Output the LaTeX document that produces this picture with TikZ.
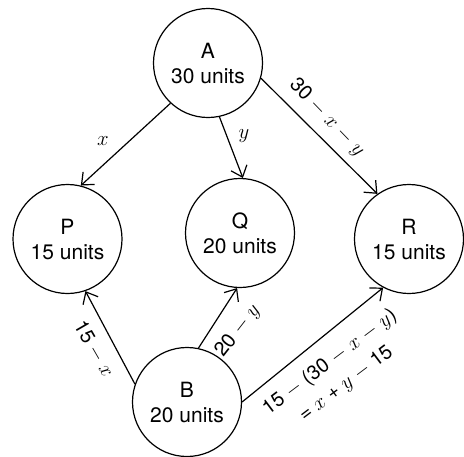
\documentclass[tikz,border=0pt]{standalone}
\usepackage{fontspec}
\setmainfont{TeX Gyre Heros}
\usetikzlibrary{arrows.meta}
\tikzset{
  place/.style={draw, circle, line width=1.2pt, minimum size=109pt, inner sep=0pt, align=center, font=\fontsize{21}{25}\selectfont},
  flow/.style={draw, line width=1.2pt, -{Straight Barb[length=10pt,width=17pt,line width=1.2pt]}},
  lab/.style={font=\fontsize{20}{27}\selectfont, inner sep=0pt, align=center}
}
\begin{document}
\begin{tikzpicture}[x=1pt,y=-1pt]
\useasboundingbox (0,0) rectangle (464,456);
\node[place] (A) at (208,63) {A\\30 units};
\node[place] (P) at (67.5,239) {P\\15 units};
\node[place] (Q) at (240,233) {Q\\20 units};
\node[place] (R) at (409,239) {R\\15 units};
\node[place] (B) at (187,402) {B\\20 units};

\draw[flow] (A.-133) -- (P.76);
\draw[flow] (A.-78) -- (Q.87);
\draw[flow] (A.-16) -- (R.125);
\draw[flow] (B.161) -- (P.-71);
\draw[flow] (B.78) -- (Q.-93);
\draw[flow] (B.0) -- (R.-118);

\node[lab] (lx) at (103,141) {$x$};
\node[lab] (ly) at (244,136) {$y$};
\node[lab, rotate=-46] (lxy) at (327,118) {30 $-$ $x$ $-$ $y$};
\node[lab, rotate=-60] (l15) at (94,349) {15 $-$ $x$};
\node[lab, rotate=52] (l20) at (238,331) {20 $-$ $y$};
\node[lab, rotate=37] (lr) at (338,373) {15 $-$ (30 $-$ $x$ $-$ $y$)\\= $x$ + $y$ $-$ 15};
\end{tikzpicture}
\end{document}
